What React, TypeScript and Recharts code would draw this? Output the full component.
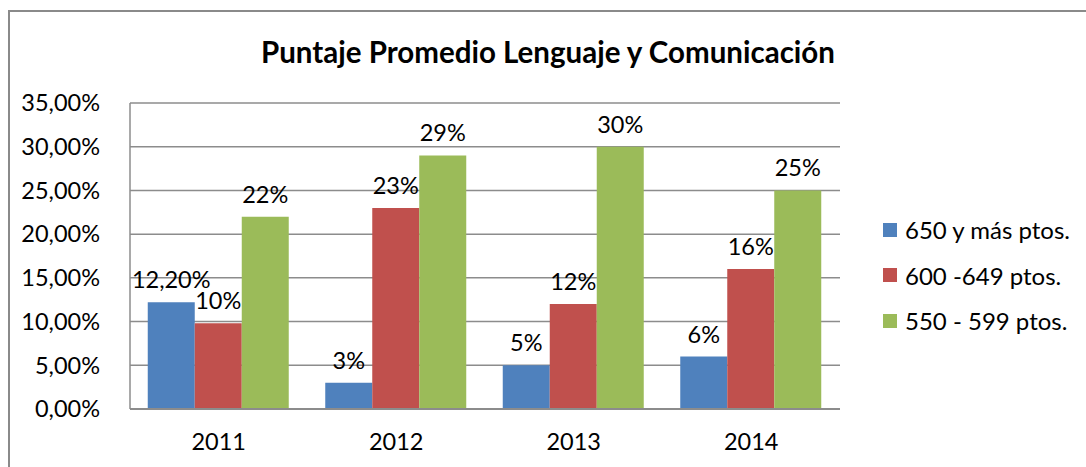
import { Bar, BarChart, CartesianGrid, LabelList, XAxis, YAxis } from "recharts";

const years = ["2011", "2012", "2013", "2014"];
const over650 = [12.2, 3, 5, 6];
const mid600 = [9.8, 23, 12, 16];
const low550 = [22, 29, 30, 25];
const over650Labels = ["12,20%", "3%", "5%", "6%"];
const mid600Labels = ["10%", "23%", "12%", "16%"];
const low550Labels = ["22%", "29%", "30%", "25%"];
const yTicks = [0, 5, 10, 15, 20, 25, 30, 35];

const series = [
  { key: "a", label: "la", name: "650 y más ptos.", color: "#4F81BD" },
  { key: "b", label: "lb", name: "600 -649 ptos.", color: "#C0504D" },
  { key: "c", label: "lc", name: "550 - 599 ptos.", color: "#9BBB59" },
];

const data = years.map((year, i) => ({
  year,
  a: over650[i],
  b: mid600[i],
  c: low550[i],
  la: over650Labels[i],
  lb: mid600Labels[i],
  lc: low550Labels[i],
}));

const FONT = "Lato, 'Open Sans', sans-serif";

export default function App() {
  return (
    <div style={{ position: "absolute", left: 0, top: 0, width: 1086, height: 467, background: "#fff", overflow: "hidden" }}>
      <div
        style={{
          position: "absolute",
          left: 8,
          top: 10,
          width: 1100,
          height: 480,
          borderLeft: "2px solid #8a8a8a",
          borderTop: "2px solid #8a8a8a",
        }}
      />
      <div
        style={{
          position: "absolute",
          left: 0,
          width: 1096,
          top: 34,
          textAlign: "center",
          fontFamily: FONT,
          fontWeight: 700,
          fontSize: 29.5,
          color: "#000",
        }}
      >
        Puntaje Promedio Lenguaje y Comunicación
      </div>
      <div style={{ position: "absolute", left: 0, top: 0 }}>
        <BarChart
          width={1086}
          height={467}
          data={data}
          margin={{ top: 103, right: 246, left: 0, bottom: 0 }}
          barCategoryGap="10%"
          barGap={0}
        >
          <CartesianGrid vertical={false} stroke="#8c8c8c" strokeWidth={1.5} />
          <XAxis
            dataKey="year"
            height={58}
            tickLine={false}
            axisLine={{ stroke: "#8c8c8c", strokeWidth: 2 }}
            tick={{ fill: "#000", fontSize: 23.5, fontFamily: FONT }}
            tickMargin={18}
          />
          <YAxis
            width={130}
            domain={[0, 35]}
            ticks={yTicks}
            tickLine={false}
            axisLine={{ stroke: "#8c8c8c", strokeWidth: 1.5 }}
            tick={{ fill: "#000", fontSize: 23.5, fontFamily: FONT }}
            tickMargin={24}
            tickFormatter={(v: number) => `${v.toFixed(2).replace(".", ",")}%`}
          />
          {series.map((s) => (
            <Bar key={s.key} dataKey={s.key} name={s.name} fill={s.color} isAnimationActive={false}>
              <LabelList
                dataKey={s.label}
                position="top"
                offset={14}
                style={{ fill: "#000", fontSize: 23.5, fontFamily: FONT }}
              />
            </Bar>
          ))}
        </BarChart>
      </div>
      <div style={{ position: "absolute", left: 883, top: 207, fontFamily: FONT, fontSize: 24, color: "#000" }}>
        {series.map((s) => (
          <div key={s.key} style={{ display: "flex", alignItems: "center", height: 45.5 }}>
            <span style={{ width: 14, height: 14, background: s.color, marginRight: 8 }} />
            <span>{s.name}</span>
          </div>
        ))}
      </div>
    </div>
  );
}
